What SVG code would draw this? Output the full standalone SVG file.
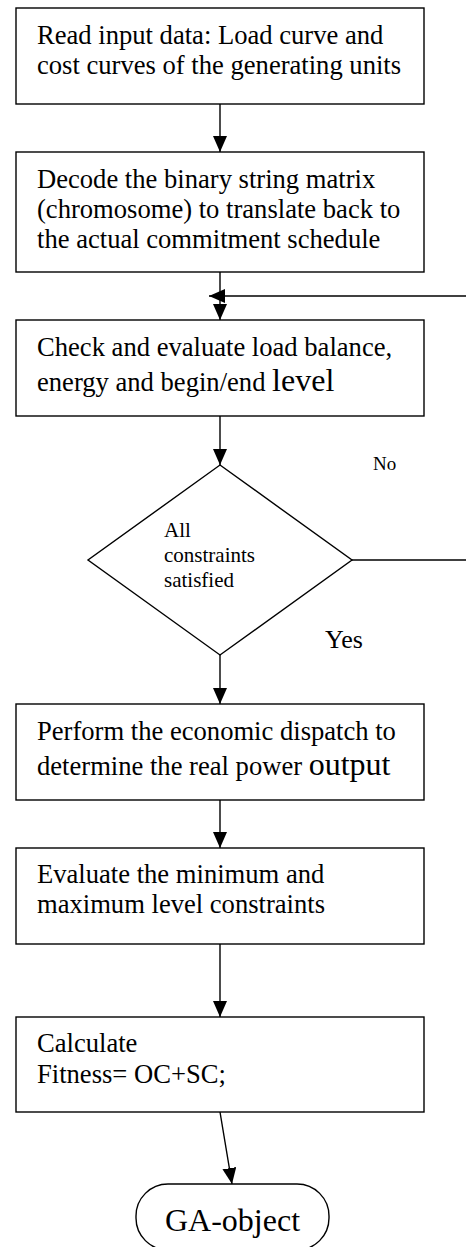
<svg xmlns="http://www.w3.org/2000/svg" width="466" height="1247" viewBox="0 0 466 1247">
<style>
.box{fill:#fff;stroke:#000;stroke-width:1.4}
.t{font-family:"Liberation Serif","Times New Roman",serif;font-size:26.6px;fill:#000}
.big{font-size:32px}
.s{font-family:"Liberation Serif","Times New Roman",serif;font-size:21px;fill:#000}
.ln{fill:none;stroke:#000;stroke-width:1.4}
</style>
<defs>
<marker id="ah" viewBox="0 0 16 14" refX="16" refY="7" markerWidth="16" markerHeight="14" markerUnits="userSpaceOnUse" orient="auto">
<path d="M0,0 L16,7 L0,14 Z" fill="#000"/>
</marker>
</defs>
<rect width="466" height="1247" fill="#fff"/>
<g id="connectors">
<line class="ln" x1="220" y1="104" x2="220" y2="152" marker-end="url(#ah)"/>
<line class="ln" x1="220" y1="272" x2="220" y2="320" marker-end="url(#ah)"/>
<line class="ln" x1="466" y1="296" x2="209" y2="296" marker-end="url(#ah)"/>
<line class="ln" x1="220" y1="416" x2="220" y2="465" marker-end="url(#ah)"/>
<line class="ln" x1="352" y1="560" x2="466" y2="560"/>
<line class="ln" x1="220" y1="655" x2="220" y2="704" marker-end="url(#ah)"/>
<line class="ln" x1="220" y1="800" x2="220" y2="848" marker-end="url(#ah)"/>
<line class="ln" x1="220" y1="944" x2="220" y2="1017" marker-end="url(#ah)"/>
<line class="ln" x1="220" y1="1112" x2="232" y2="1184" marker-end="url(#ah)"/>
<text class="s" x="373" y="470" style="font-size:19px">No</text>
<text class="t" x="325" y="648" style="font-size:26px">Yes</text>
</g>
<g id="n1">
<rect class="box" x="16" y="8" width="408" height="96"/>
<text class="t" x="37" y="44">Read input data: Load curve and</text>
<text class="t" x="37" y="74">cost curves of the generating units</text>
</g>
<g id="n2">
<rect class="box" x="16" y="152" width="408" height="120"/>
<text class="t" x="37" y="188">Decode the binary string matrix</text>
<text class="t" x="37" y="218">(chromosome) to translate back to</text>
<text class="t" x="37" y="248">the actual commitment schedule</text>
</g>
<g id="n3">
<rect class="box" x="16" y="320" width="408" height="96"/>
<text class="t" x="37" y="356">Check and evaluate load balance,</text>
<text class="t" x="37" y="391">energy and begin/end <tspan class="big">level</tspan></text>
</g>
<g id="n4">
<polygon class="box" points="220,465 352,560 220,655 88,560"/>
<text class="s" x="164" y="537">All</text>
<text class="s" x="164" y="562">constraints</text>
<text class="s" x="164" y="587">satisfied</text>
</g>
<g id="n5">
<rect class="box" x="16" y="704" width="408" height="96"/>
<text class="t" x="37" y="740">Perform the economic dispatch to</text>
<text class="t" x="37" y="775">determine the real power <tspan class="big">output</tspan></text>
</g>
<g id="n6">
<rect class="box" x="16" y="848" width="408" height="96"/>
<text class="t" x="37" y="883">Evaluate the minimum and</text>
<text class="t" x="37" y="913">maximum level constraints</text>
</g>
<g id="n7">
<rect class="box" x="16" y="1017" width="408" height="95"/>
<text class="t" x="37" y="1052">Calculate</text>
<text class="t" x="37" y="1083">Fitness= OC+SC;</text>
</g>
<g id="n8">
<rect class="box" x="136" y="1184" width="193" height="66" rx="32" ry="32"/>
<text class="t big" x="232.5" y="1231" text-anchor="middle">GA-object</text>
</g>
</svg>
